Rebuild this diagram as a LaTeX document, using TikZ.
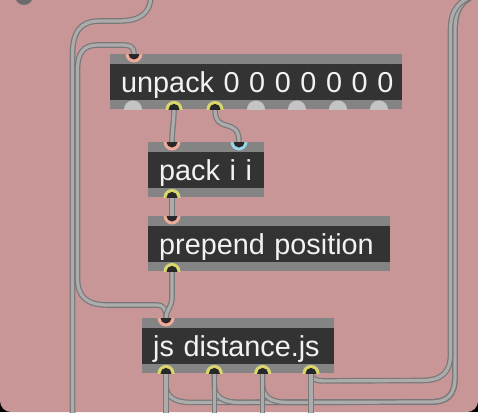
\documentclass[tikz,border=0pt]{standalone}
\usepackage{fontspec}
\newfontfamily\maxfont{Liberation Sans}
\usetikzlibrary{positioning, calc}

\definecolor{patchbg}{RGB}{200,150,150}
\definecolor{knobgray}{RGB}{108,108,108}
\definecolor{bandgray}{RGB}{132,132,132}
\definecolor{boxdark}{RGB}{51,51,51}
\definecolor{boxtext}{RGB}{242,242,242}
\definecolor{portdark}{RGB}{40,40,40}
\definecolor{portfree}{RGB}{196,196,196}
\definecolor{inletred}{RGB}{240,170,155}
\definecolor{inletblue}{RGB}{150,212,230}
\definecolor{outletyellow}{RGB}{215,215,110}
\definecolor{cableedge}{RGB}{120,120,120}
\definecolor{cablefill}{RGB}{172,172,172}

\pgfdeclarelayer{back}
\pgfdeclarelayer{wires}
\pgfsetlayers{back,wires,main}

\newcommand{\maxport}[2]{%
  \fill[#2] (#1) circle[radius=8.5pt];
  \fill[portdark] (#1) circle[radius=5.5pt];}

\begin{document}
\begin{tikzpicture}[x=1pt, y=-1pt,
    maxbox/.style={rectangle, anchor=north west, fill=bandgray,
      inner xsep=11pt, inner ysep=0pt, minimum height=55pt,
      text height=21pt, text depth=0pt, align=left,
      text=boxtext, font=\maxfont\fontsize{28.8}{32}\selectfont,
      path picture={\fill[boxdark]
        ([yshift=-9.5pt]path picture bounding box.north west) rectangle
        ([yshift=9.5pt]path picture bounding box.south east);}},
    cable/.style={draw=cableedge, line width=1.2pt,
      double=cablefill, double distance=3.2pt}]
  \useasboundingbox (0,0) rectangle (478,412);
  \clip (0,0) rectangle (478,412);

  \begin{pgfonlayer}{back}
    \fill[black] (0,0) rectangle (478,412);
    \fill[patchbg, rounded corners=11pt] (0,-20) rectangle (478,412);
    \fill[knobgray] (24,-4) circle[radius=9pt];
  \end{pgfonlayer}

  % objects
  \node[maxbox, text width=270pt] (unpack) at (110,54) {\mbox{unpack 0 0 0 0 0 0 0}};
  \node[maxbox, text width=94pt] (pack) at (148,142) {\mbox{pack i i}};
  \node[maxbox, text width=220pt] (prepend) at (148,216) {\mbox{prepend position}};
  \node[maxbox, text width=170pt] (js) at (142,318) {\mbox{js distance.js}};

  % inlets and outlets
  \coordinate (unpack-i1) at ([xshift=24pt]unpack.north west);
  \foreach \i in {1,...,7}
    \coordinate (unpack-o\i) at ([xshift={23pt+41pt*(\i-1)}]unpack.south west);
  \coordinate (pack-i1) at ([xshift=24pt]pack.north west);
  \coordinate (pack-i2) at ([xshift=91pt]pack.north west);
  \coordinate (pack-o1) at ([xshift=24pt]pack.south west);
  \coordinate (prepend-i1) at ([xshift=24pt]prepend.north west);
  \coordinate (prepend-o1) at ([xshift=24pt]prepend.south west);
  \coordinate (js-i1) at ([xshift=24pt]js.north west);
  \foreach \i in {1,...,4}
    \coordinate (js-o\i) at ([xshift={24pt+48.33pt*(\i-1)}]js.south west);
  \coordinate (topleft) at (151,-4);
  \coordinate (topright) at (480,-7);

  \begin{scope}
    \clip (unpack.north west) rectangle (unpack.south east);
    \maxport{unpack-i1}{inletred}
    \foreach \i in {2,3} {\maxport{unpack-o\i}{outletyellow}}
    \foreach \i in {1,4,5,6,7} \fill[portfree] (unpack-o\i) circle[radius=9pt];
  \end{scope}
  \begin{scope}
    \clip (pack.north west) rectangle (pack.south east);
    \maxport{pack-i1}{inletred}
    \maxport{pack-i2}{inletblue}
    \maxport{pack-o1}{outletyellow}
  \end{scope}
  \begin{scope}
    \clip (prepend.north west) rectangle (prepend.south east);
    \maxport{prepend-i1}{inletred}
    \maxport{prepend-o1}{outletyellow}
  \end{scope}
  \begin{scope}
    \clip (js.north west) rectangle (js.south east);
    \maxport{js-i1}{inletred}
    \foreach \i in {1,...,4} {\maxport{js-o\i}{outletyellow}}
  \end{scope}

  % patch cords
  \begin{pgfonlayer}{wires}
    \draw[cable] (topleft) .. controls (150,14) and (140,21) .. (118,21)
      -- (100,21) .. controls (80,21) and (72.5,32) .. (72.5,55) -- (72.5,420);
    \draw[cable] (unpack-i1) .. controls (134,46) and (130,45) .. (120,45)
      -- (98,45) .. controls (84,45) and (77.5,52) .. (77.5,70) -- (77.5,278)
      .. controls (77.5,298) and (88,305) .. (108,305) -- (156,305)
      .. controls (164,305) and (166,309) .. (js-i1);
    \draw[cable] (unpack-o2) .. controls +(0,12) and +(0,-12) .. (pack-i1);
    \draw[cable] (unpack-o3) .. controls (215,135) and (239,116) .. (pack-i2);
    \draw[cable] (pack-o1) -- (prepend-i1);
    \draw[cable] (prepend-o1) -- ++(0,26) .. controls +(0,10) and +(0,-8) .. (js-i1);
    \foreach \i in {1,2,3}
      \draw[cable] (js-o\i) -- ++(0,12) .. controls +(0,12) and +(-14,0) .. ++(24,17)
        -- (430,402) .. controls (448,402) and (455,395) .. (455,376)
        -- (455,30) .. controls (455,8) and (462,0) .. (topright);
    \draw[cable] (js-o4) .. controls +(0,6) and +(-6,0) .. ++(12,7.5)
      -- (422,380.5) .. controls (442,380.5) and (450.5,372) .. (450.5,354)
      -- (450.5,30) .. controls (450.5,8) and (460,0) .. (topright);
    \foreach \i in {1,...,4}
      \draw[cable] (js-o\i) -- ++(0,50);
  \end{pgfonlayer}
\end{tikzpicture}
\end{document}
